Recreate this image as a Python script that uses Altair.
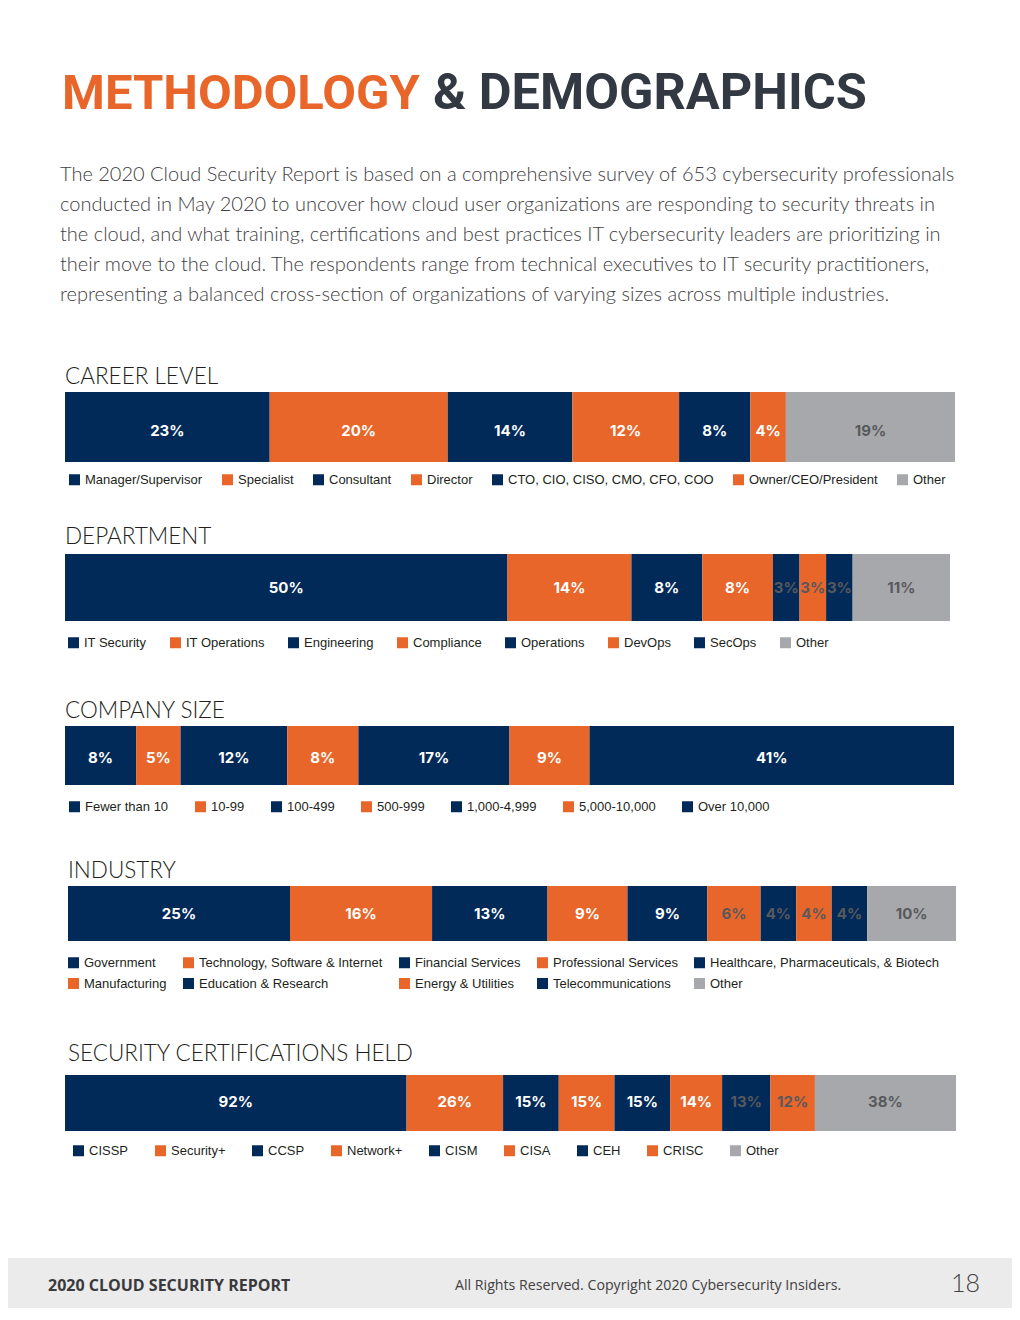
import json
import altair as alt
import pandas as pd

# ---------------- data ----------------
career_cats = ["Manager/Supervisor", "Specialist", "Consultant", "Director",
               "CTO, CIO, CISO, CMO, CFO, COO", "Owner/CEO/President", "Other"]
career_vals = [23, 20, 14, 12, 8, 4, 19]

dept_cats = ["IT Security", "IT Operations", "Engineering", "Compliance",
             "Operations", "DevOps", "SecOps", "Other"]
dept_vals = [50, 14, 8, 8, 3, 3, 3, 11]

size_cats = ["Fewer than 10", "10-99", "100-499", "500-999", "1,000-4,999",
             "5,000-10,000", "Over 10,000"]
size_vals = [8, 5, 12, 8, 17, 9, 41]

ind_cats = ["Government", "Technology, Software & Internet", "Financial Services",
            "Professional Services", "Healthcare, Pharmaceuticals, & Biotech",
            "Manufacturing", "Education & Research", "Energy & Utilities",
            "Telecommunications", "Other"]
ind_vals = [25, 16, 13, 9, 9, 6, 4, 4, 4, 10]

cert_cats = ["CISSP", "Security+", "CCSP", "Network+", "CISM", "CISA", "CEH",
             "CRISC", "Other"]
cert_vals = [92, 26, 15, 15, 15, 14, 13, 12, 38]

title_left = "METHODOLOGY"
title_right = "& DEMOGRAPHICS"
intro_lines = [
    "The 2020 Cloud Security Report is based on a comprehensive survey of 653 cybersecurity professionals",
    "conducted in May 2020 to uncover how cloud user organizations are responding to security threats in",
    "the cloud, and what training, certifications and best practices IT cybersecurity leaders are prioritizing in",
    "their move to the cloud. The respondents range from technical executives to IT security practitioners,",
    "representing a balanced cross-section of organizations of varying sizes across multiple industries.",
]
footer_left = "2020 CLOUD SECURITY REPORT"
footer_mid = "All Rights Reserved. Copyright 2020 Cybersecurity Insiders."
page_no = "18"

# ---------------- style ----------------
NAVY = "#022A58"
ORANGE = "#E8662A"
GRAY = "#A7A8AB"
DIMTXT = "#58595C"
INK = "#231F20"
W, H = 1004, 1300
O = 8  # page margin offset

def palette(cats):
    out = []
    for i, c in enumerate(cats):
        out.append(GRAY if c == "Other" else (NAVY if i % 2 == 0 else ORANGE))
    return out

# layout per section (page pixel coordinates)
sections = [
    dict(name="CAREER LEVEL", cats=career_cats, vals=career_vals, tx=65, ty=384,
         x0=65, x1=955, y0=392, y1=462, ly_off=4, lx=68, ly=473, cols=7, pad=18,
         dim=["Other"]),
    dict(name="DEPARTMENT", cats=dept_cats, vals=dept_vals, tx=65, ty=544,
         x0=65, x1=950, y0=554, y1=621, ly_off=0, lx=67, ly=636, cols=8, pad=22,
         dim=["Operations", "DevOps", "SecOps", "Other"]),
    dict(name="COMPANY SIZE", cats=size_cats, vals=size_vals, tx=65, ty=718,
         x0=65, x1=954, y0=726, y1=785, ly_off=2, lx=68, ly=800, cols=7, pad=25,
         dim=[]),
    dict(name="INDUSTRY", cats=ind_cats, vals=ind_vals, tx=68, ty=878,
         x0=68, x1=956, y0=886, y1=941, ly_off=0, lx=67, ly=956, cols=5, pad=15,
         dim=["Manufacturing", "Education & Research", "Energy & Utilities",
              "Telecommunications", "Other"]),
    dict(name="SECURITY CERTIFICATIONS HELD", cats=cert_cats, vals=cert_vals,
         tx=68, ty=1061, x0=65, x1=956, y0=1075, y1=1131, ly_off=-1, lx=72, ly=1144,
         cols=9, pad=25, dim=["CEH", "CRISC", "Other"]),
]

layers = []

def text_layer(txt, x, y, **kw):
    return alt.Chart(pd.DataFrame({"t": [txt]})).mark_text(
        align=kw.pop("align", "left"), baseline="alphabetic", **kw
    ).encode(x=alt.value(x - O), y=alt.value(y - O), text="t:N")

# header
layers.append(text_layer(title_left, 62, 109, font="Roboto", fontSize=49,
                         fontWeight="bold", color=ORANGE))
layers.append(text_layer(title_right, 433, 109, font="Roboto", fontSize=50.5,
                         fontWeight="bold", color="#333942"))
layers.append(
    alt.Chart(pd.DataFrame({"k": [0]})).mark_text(
        align="left", baseline="alphabetic", font="Lato", fontWeight=300,
        fontSize=20, lineHeight=30, color="#414042"
    ).encode(x=alt.value(60 - O), y=alt.value(181 - O), text=alt.value(intro_lines))
)

for s in sections:
    cats, vals = s["cats"], s["vals"]
    df = pd.DataFrame({"cat": cats, "v": vals, "ord": list(range(len(cats)))})
    xs = alt.Scale(domain=[0, 1], range=[s["x0"] - O, s["x1"] - O])
    base = alt.Chart(df).transform_stack(
        stack="v", groupby=[], as_=["s0", "s1"], offset="normalize",
        sort=[alt.SortField(field="ord", order="ascending")]
    ).transform_calculate(mid="(datum.s0 + datum.s1) / 2", lab="datum.v + '%'")
    bars = base.mark_rect().encode(
        x=alt.X("s0:Q", scale=xs, axis=None),
        x2="s1:Q",
        y=alt.value(s["y0"] - O),
        y2=alt.value(s["y1"] - O),
        color=alt.Color(
            "cat:N",
            scale=alt.Scale(domain=cats, range=palette(cats)),
            legend=alt.Legend(
                title=None, orient="none", legendX=s["lx"] - O, legendY=s["ly"] - O,
                direction="horizontal", columns=s["cols"], symbolType="square",
                symbolSize=121, symbolStrokeWidth=0, symbolOpacity=1,
                labelFont="Liberation Sans, Arial, sans-serif", labelFontSize=13,
                labelColor=INK, labelOffset=4, labelLimit=400,
                columnPadding=s["pad"], rowPadding=7, padding=0,
            ),
        ),
    )
    labels = base.mark_text(
        font="Inter, Lato, sans-serif", fontSize=15, fontWeight="bold",
        baseline="middle", align="center"
    ).encode(
        x=alt.X("mid:Q", scale=xs, axis=None),
        y=alt.value((s["y0"] + s["y1"]) / 2 + s["ly_off"] - O),
        text="lab:N",
        color=alt.condition(f"indexof({json.dumps(s['dim'])}, datum.cat) >= 0",
                            alt.value(DIMTXT), alt.value("#FFFFFF")),
    )
    title = text_layer(s["name"], s["tx"], s["ty"], font="Lato", fontWeight=300,
                       fontSize=22.5, color=INK)
    layers += [title, bars, labels]

# footer
layers.append(
    alt.Chart(pd.DataFrame({"k": [0]})).mark_rect(color="#EBEBEB").encode(
        x=alt.value(0), x2=alt.value(W), y=alt.value(1258 - O), y2=alt.value(H)
    )
)
layers.append(text_layer(footer_left, 48, 1291, font="Open Sans", fontWeight="bold",
                         fontSize=16, color="#3A3A3C"))
layers.append(text_layer(footer_mid, 455, 1290, font="Open Sans", fontSize=14.2,
                         color="#414042"))
layers.append(text_layer(page_no, 980, 1292, align="right", font="Lato", fontWeight=300,
                         fontSize=25, color="#414042"))

chart = alt.layer(*layers).resolve_scale(x="independent", color="independent").properties(
    width=W, height=H, autosize=alt.AutoSizeParams(type="none"), padding=0
).configure_view(stroke=None)

chart.save("out.html", embed_options={"renderer": "svg", "actions": False})
